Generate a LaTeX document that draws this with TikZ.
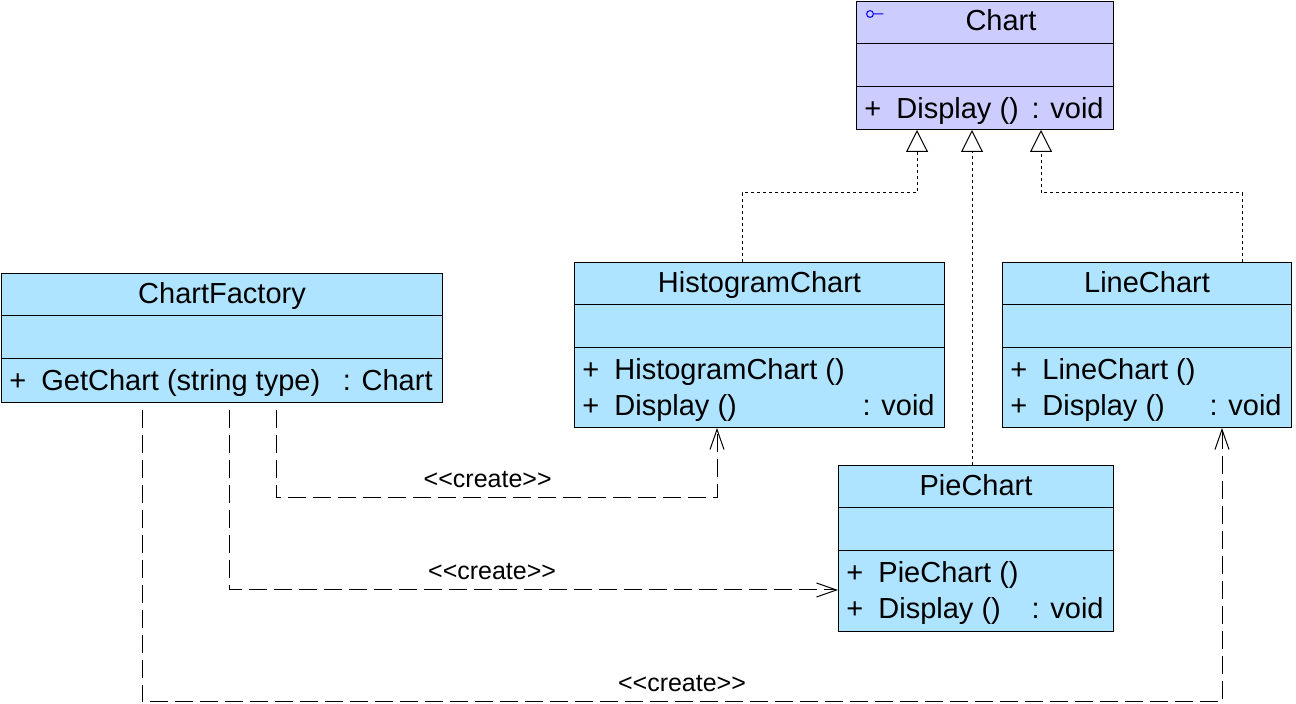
\documentclass[tikz,border=0pt]{standalone}
\usepackage{fontspec}
\setmainfont{Liberation Sans}
\usetikzlibrary{arrows.meta, positioning, calc}
\definecolor{ifacefill}{RGB}{204,204,255}
\definecolor{classfill}{RGB}{174,228,255}

\begin{document}
\begin{tikzpicture}[x=0.5pt, y=-0.5pt,
    classbox/.style={draw, line width=0.5pt, anchor=north west, inner sep=0, fill=classfill},
    classname/.style={anchor=base, inner sep=0, font=\fontsize{14.5}{17}\selectfont},
    member/.style={anchor=base west, inner sep=0, font=\fontsize{14.5}{17}\selectfont},
    lbl/.style={inner sep=0, font=\fontsize{12.5}{15}\selectfont},
    realize/.style={line width=0.5pt, dash pattern=on 1.5pt off 1.5pt,
        -{Triangle[open, fill=white, length=11pt, width=11pt]}},
    depend/.style={line width=0.5pt, dash pattern=on 9pt off 3.5pt, dash phase=9pt,
        -{Straight Barb[length=10pt, width=7pt]}}]
\useasboundingbox (0,0) rectangle (1296,704);
% Class boxes
\node[classbox, fill=ifacefill, minimum width=128.5pt, minimum height=64pt] (chart) at (856,1) {};
\node[classbox, minimum width=185pt, minimum height=82.5pt] (hist) at (574,262) {};
\node[classbox, minimum width=144.5pt, minimum height=82.5pt] (line) at (1002,262) {};
\node[classbox, minimum width=137.5pt, minimum height=83pt] (pie) at (838,465) {};
\node[classbox, minimum width=220.5pt, minimum height=64.5pt] (factory) at (1,273) {};
% Compartments
\foreach \c in {chart, hist, line, pie, factory} {
    \draw[line width=0.5pt] ($(\c.north west)+(0,43)$) -- ($(\c.north east)+(0,43)$);
    \draw[line width=0.5pt] ($(\c.north west)+(0,86)$) -- ($(\c.north east)+(0,86)$);
}
% Names
\node[classname] (chart-name) at ($(chart.north)+(16,30)$) {Chart};
\node[classname] (hist-name) at ($(hist.north)+(0,31)$) {HistogramChart};
\node[classname] (line-name) at ($(line.north)+(0,31)$) {LineChart};
\node[classname] (pie-name) at ($(pie.north)+(0,31)$) {PieChart};
\node[classname] (factory-name) at ($(factory.north)+(0,31)$) {ChartFactory};
\draw[blue, line width=0.5pt] ($(chart.north west)+(14,13)$) circle[radius=1.7pt]
    ++(3.4,0) -- ++(10,0);
% Operations
\foreach \c/\r/\op/\type in {chart/1/Display ()/: void,
    hist/1/HistogramChart ()/, hist/2/Display ()/: void,
    line/1/LineChart ()/, line/2/Display ()/: void,
    pie/1/PieChart ()/, pie/2/Display ()/: void,
    factory/1/GetChart (string type)/: Chart} {
    \node[member] (\c-p\r) at ($(\c.north west)+(8,{118+36*(\r-1)})$) {+};
    \node[member] (\c-o\r) at ($(\c.north west)+(40,{118+36*(\r-1)})$) {\op};
    \node[member, anchor=base east] (\c-t\r) at ($(\c.north east)+(-10,{118+36*(\r-1)})$) {\type};
}
% Realizations
\draw[realize] ($(hist.north west)+(168,0)$) -- ++(0,-69) -| ($(chart.south west)+(61,0)$);
\draw[realize] ($(pie.north west)+(134,0)$) -- ($(chart.south west)+(116,0)$);
\draw[realize] ($(line.north west)+(240,0)$) -- ++(0,-69) -| ($(chart.south west)+(185,0)$);
% Dependencies
\draw[depend] ($(factory.south west)+(275,0)$) -- ++(0,95)
    -| node[pos=0.24, above=5pt, lbl] (lbl-hist) {<\kern0pt<create>\kern0pt>} ($(hist.south west)+(143,0)$);
\draw[depend] ($(factory.south west)+(228,0)$)
    |- node[pos=0.716, above=5pt, lbl] (lbl-pie) {<\kern0pt<create>\kern0pt>} ($(pie.north west)+(0,125)$);
\draw[depend] ($(factory.south west)+(141,0)$) -- ++(0,299)
    -| node[pos=0.25, above=5pt, lbl] (lbl-line) {<\kern0pt<create>\kern0pt>} ($(line.south west)+(220,0)$);
\end{tikzpicture}
\end{document}
